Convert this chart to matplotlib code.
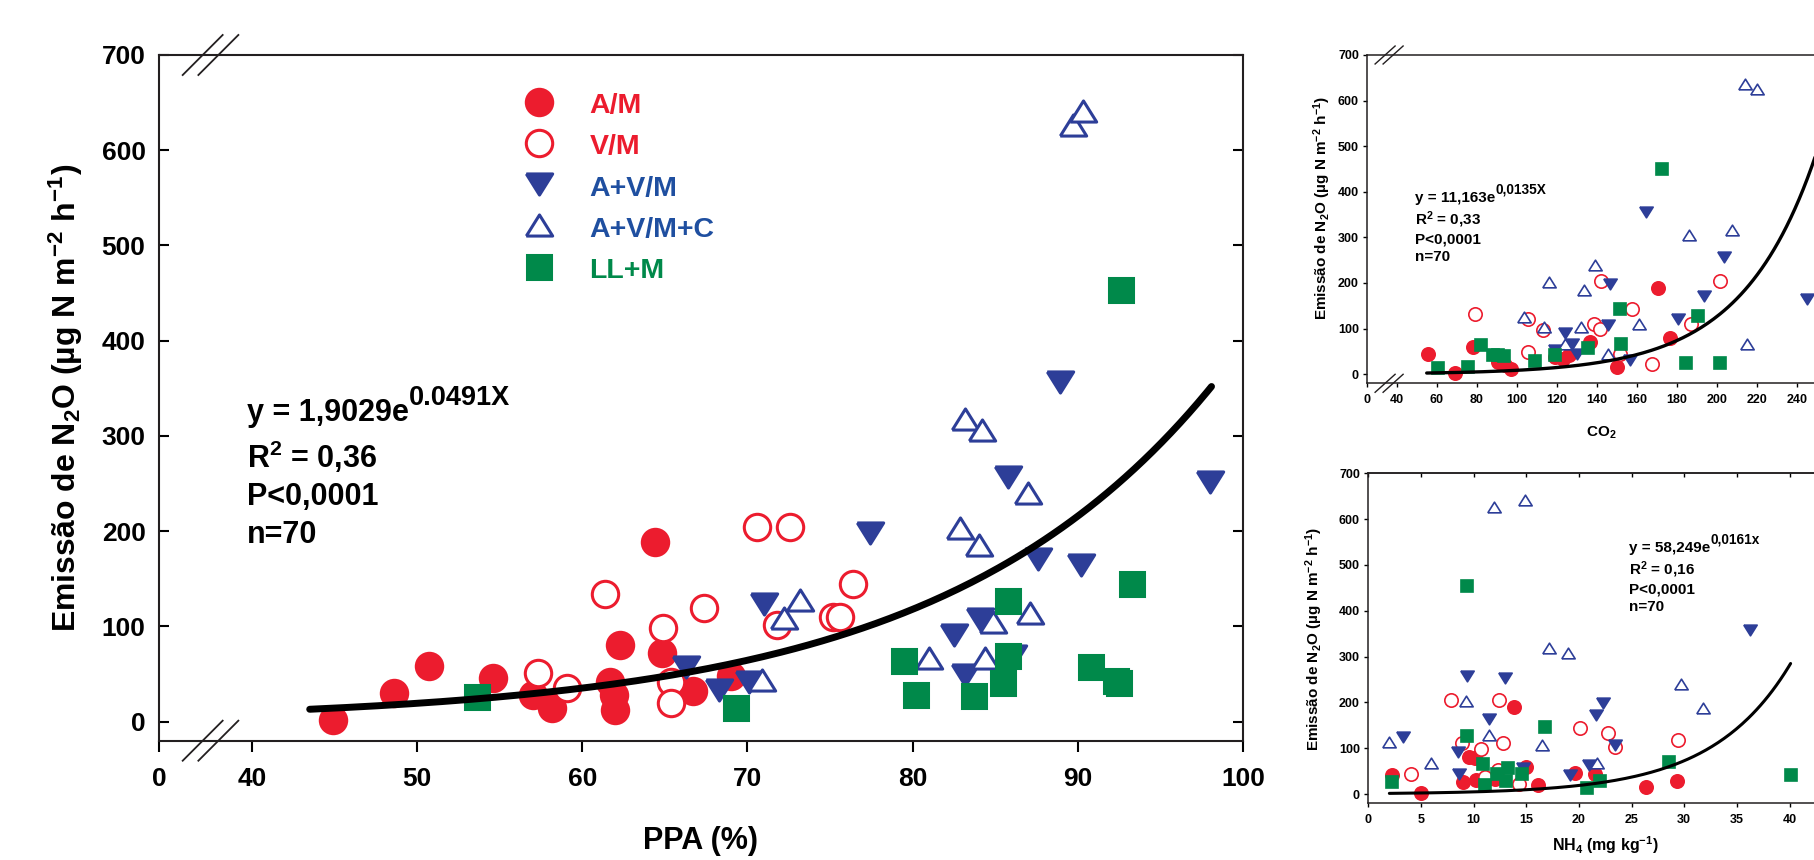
import matplotlib
matplotlib.use('Agg')
import matplotlib.pyplot as plt
from matplotlib.lines import Line2D
from matplotlib.transforms import blended_transform_factory
import numpy as np

plt.rcParams['font.family'] = ['Liberation Sans', 'DejaVu Sans']
plt.rcParams['font.weight'] = 'bold'
plt.rcParams['mathtext.default'] = 'regular'

# ---- data: N2O emission vs PPA (main panel) ----
am_ppa_x = [44.9, 48.6, 50.7, 54.6, 57.0, 58.2, 61.7, 61.9, 62.0, 62.3, 64.4, 64.85, 66.7, 69.0]
am_ppa_y = [2, 30.5, 58.5, 46, 28, 14, 42, 28, 12.3, 80, 189, 72.5, 32.6, 48]
vm_ppa_x = [57.3, 59.05, 61.4, 64.9, 65.4, 65.4, 67.4, 70.6, 72.6, 71.8, 75.2, 75.6, 76.4]
vm_ppa_y = [50.8, 35, 133.8, 98, 42, 19.3, 119.8, 204.8, 204.8, 101.6, 110, 110, 144.6]
avm_ppa_x = [66.3, 68.3, 70.1, 71.0, 77.4, 82.5, 83.2, 84.1, 85.8, 86.1, 87.6, 88.9, 90.2, 98.0]
avm_ppa_y = [57.8, 33.3, 42, 124, 198, 91, 49, 107.6, 257.4, 69, 170.6, 357, 164.6, 252]
avmc_ppa_x = [70.9, 72.2, 73.2, 81.0, 82.9, 83.2, 84.0, 84.2, 84.4, 84.9, 87.0, 87.1, 89.7, 90.3]
avmc_ppa_y = [43.8, 108.6, 127.8, 66.6, 203, 317.6, 185.6, 306.4, 67.2, 105, 240, 113.9, 626.7, 640.8]
ll_ppa_x = [53.6, 69.3, 79.5, 80.2, 83.7, 85.5, 85.8, 85.8, 90.8, 92.3, 92.5, 92.6, 93.3]
ll_ppa_y = [26, 14, 63.8, 28, 27, 41, 69, 127, 57.8, 43, 41, 453, 144.6]

# ---- data: N2O emission vs CO2 ----
am_co2_x = [55.5, 69.2, 78, 90.5, 94.2, 97.2, 119.2, 123.3, 126, 136.7, 150, 170.8, 176.7]
am_co2_y = [45, 1.5, 60, 27, 20, 12, 38, 34, 42, 71, 16, 190, 80]
vm_co2_x = [79.2, 105.8, 105.8, 113.3, 138.8, 141.7, 142.2, 157.5, 151.7, 167.5, 187.2, 201.7]
vm_co2_y = [133, 49, 120, 96.5, 110, 100, 205, 144, 44, 22, 110, 204]
avm_co2_x = [124.2, 127.5, 130, 119, 145.8, 146.7, 156.7, 164.7, 180.8, 193.8, 203.8, 245.3]
avm_co2_y = [91, 66, 45, 53, 107, 197, 31, 356, 122, 171, 257, 164]
avmc_co2_x = [103.7, 116.3, 113.8, 124.2, 132, 133.8, 139.2, 145.8, 161.3, 186.2, 207.8, 214.2, 220, 215]
avmc_co2_y = [126, 202, 104, 67, 104, 184, 239, 44, 111, 305, 316, 637, 625, 66]
ll_co2_x = [60.5, 75.8, 82, 88.3, 90.5, 93.8, 109.2, 119.2, 135.5, 151.7, 152, 172.5, 184.7, 190.5, 201.7]
ll_co2_y = [14.6, 16, 63.6, 41.7, 41.7, 39.5, 29, 41.7, 57.7, 144, 67, 451, 25.6, 127, 25.6]

# ---- data: N2O emission vs NH4 ----
am_nh4_x = [2.28, 5.0, 9.0, 9.6, 10.1, 10.2, 12.0, 13.8, 15.0, 16.1, 19.6, 21.5, 26.4, 29.3]
am_nh4_y = [41.5, 1.5, 27, 81.5, 78, 30.6, 34, 190.7, 59.7, 19.7, 46.6, 45, 14.6, 29]
vm_nh4_x = [4.1, 7.85, 8.86, 10.7, 12.4, 12.8, 12.3, 11.1, 14.3, 20.1, 22.8, 23.4, 29.4]
vm_nh4_y = [43.7, 205, 110.6, 97.5, 205, 110.6, 52, 38, 23, 145, 134, 103, 119]
avm_nh4_x = [3.3, 8.5, 8.6, 9.4, 11.5, 13.0, 14.7, 19.2, 21.0, 21.6, 22.3, 23.4, 36.2]
avm_nh4_y = [125, 92.4, 45, 257.6, 165, 252.5, 56, 41.5, 63.3, 172.5, 198, 107, 358]
avmc_nh4_x = [1.96, 5.95, 9.24, 11.46, 11.96, 14.87, 16.5, 17.2, 19.0, 21.7, 29.7, 31.8]
avmc_nh4_y = [114, 67, 204, 128, 627, 642, 107, 318, 308.6, 67, 240, 187]
ll_nh4_x = [2.28, 9.4, 9.4, 10.9, 11.1, 12.2, 13.1, 13.3, 14.6, 16.8, 20.8, 22.0, 28.6, 40.1]
ll_nh4_y = [27, 454, 126.6, 65.5, 19.7, 43, 29, 58, 43, 147, 12.4, 29, 70.6, 41.5]

# fitted exponential curves as drawn (y = a*exp(b*x) over x range)
ppa_fit = (0.94, 0.0604, 43.5, 98.1)
co2_fit = (0.57, 0.027, 55, 262)
nh4_fit = (1.27, 0.135, 2.0, 40.1)

labels = ['A/M', 'V/M', 'A+V/M', 'A+V/M+C', 'LL+M']

RED = '#ec1c2e'
BLUE = '#2d3e98'
GREEN = '#00894a'
TXT_BLUE = '#1f4fa0'
INK = '#231f20'

tri_down = [(-1, 0.8), (1, 0.8), (0, -0.8), (-1, 0.8)]
tri_up = [(-1, -0.8), (1, -0.8), (0, 0.8), (-1, -0.8)]
styles = [
    dict(marker='o', mfc=RED, mec=RED),
    dict(marker='o', mfc='white', mec=RED),
    dict(marker=tri_down, mfc=BLUE, mec=BLUE),
    dict(marker=tri_up, mfc='white', mec=BLUE),
    dict(marker='s', mfc=GREEN, mec=GREEN),
]
text_colors = [RED, RED, TXT_BLUE, TXT_BLUE, GREEN]

W, H = 1815, 860
fig = plt.figure(figsize=(W / 100, H / 100), dpi=100)
renderer = fig.canvas.get_renderer()


def box(l, t, r, b):
    return [l / W, 1 - b / H, (r - l) / W, (b - t) / H]


def draw_points(ax, xs, ys, ms, mew):
    for (x, y), st in zip(zip(xs, ys), styles):
        s = dict(st)
        size = ms
        if s['marker'] == 's':
            size = ms * 0.93
        ax.plot(x, y, linestyle='none', ms=size, mew=mew, zorder=3, **s)


def draw_fit(ax, fit, lw):
    a, b, x0, x1 = fit
    xx = np.linspace(x0, x1, 200)
    ax.plot(xx, a * np.exp(b * xx), color='black', lw=lw, zorder=4,
            solid_capstyle='round')


def breaks(ax, centers, dx, dy, lw):
    tr = blended_transform_factory(ax.transData, ax.transAxes)
    for yy in (0, 1):
        for c in centers:
            ax.plot([c - dx, c + dx], [yy - dy, yy + dy], color=INK, lw=lw,
                    transform=tr, clip_on=False, zorder=5)


def style_spines(ax, lw):
    for s in ax.spines.values():
        s.set_linewidth(lw)
        s.set_color(INK)


def eq_text(x, y, main, sup, size, sup_size, rise):
    # main text, then a raised exponent right after it (pixel coords from top-left)
    t = fig.text(x / W, 1 - y / H, main, fontsize=size, va='baseline')
    ext = t.get_window_extent(renderer)
    fig.text(ext.x1 / W, 1 - (y - rise) / H, sup, fontsize=sup_size, va='baseline')


def stats_text(x, ys, r2, size):
    fig.text(x / W, 1 - ys[0] / H, 'R$^{2}$ = ' + r2, fontsize=size, va='baseline')
    fig.text(x / W, 1 - ys[1] / H, 'P<0,0001', fontsize=size, va='baseline')
    fig.text(x / W, 1 - ys[2] / H, 'n=70', fontsize=size, va='baseline')


YLAB = 'Emissão de N$_2$O (µg N m$^{-2}$ h$^{-1}$)'

# ---------------- main panel ----------------
ax = fig.add_axes(box(159.4, 55, 1242.9, 740.7))
draw_points(ax, [am_ppa_x, vm_ppa_x, avm_ppa_x, avmc_ppa_x, ll_ppa_x],
            [am_ppa_y, vm_ppa_y, avm_ppa_y, avmc_ppa_y, ll_ppa_y], 19, 2.2)
draw_fit(ax, ppa_fit, 5)
ax.set_xlim(34.4, 100)
ax.set_ylim(-20, 700)
ax.set_xticks([34.4, 40, 50, 60, 70, 80, 90, 100])
ax.set_xticklabels(['0', '40', '50', '60', '70', '80', '90', '100'])
ax.set_yticks(range(0, 701, 100))
ax.tick_params(axis='x', direction='out', length=8, width=1.5, pad=11, labelsize=19)
ax.tick_params(axis='y', direction='in', length=7, width=1.5, left=True, right=True,
               pad=10, labelsize=19)
style_spines(ax, 1.5)
breaks(ax, [37.02, 37.97], 1.21, 0.0292, 1.3)

fig.text(701 / W, 1 - 841 / H, 'PPA (%)', ha='center', va='center', fontsize=22)
fig.text(66 / W, 1 - 398 / H, YLAB, rotation=90, ha='center', va='center', fontsize=23)

eq_text(246.9, 420.7, 'y = 1,9029e', '0.0491X', 22, 19.5, 15.7)
stats_text(246.9, [468.3, 505, 543.3], '0,36', 22)

# legend
for i, (lab, st, tc) in enumerate(zip(labels, styles, text_colors)):
    ym = 101.7 + i * 41.25
    s = dict(st)
    size = 19 if s['marker'] != 's' else 17.5
    fig.add_artist(Line2D([538.8 / W], [1 - ym / H], transform=fig.transFigure,
                          linestyle='none', ms=size, mew=2.2, **s))
    fig.text(589.3 / W, 1 - (ym + 11.5) / H, lab, color=tc, fontsize=20.5, va='baseline')

# ---------------- CO2 panel ----------------
ax2 = fig.add_axes(box(1367.3, 55, 1836.7, 383.3))
draw_points(ax2, [am_co2_x, vm_co2_x, avm_co2_x, avmc_co2_x, ll_co2_x],
            [am_co2_y, vm_co2_y, avm_co2_y, avmc_co2_y, ll_co2_y], 9.6, 1.2)
draw_fit(ax2, co2_fit, 2.4)
ax2.set_xlim(25.3, 260)
ax2.set_ylim(-20, 700)
ax2.set_xticks([25.3] + list(range(40, 241, 20)))
ax2.set_xticklabels(['0'] + [str(v) for v in range(40, 241, 20)])
ax2.set_yticks(range(0, 701, 100))
ax2.tick_params(axis='both', direction='out', length=3, width=1, pad=3, labelsize=9)
ax2.tick_params(axis='x', pad=5)
style_spines(ax2, 1.1)
breaks(ax2, [34.2, 38.2], 5.0, 0.0274, 1.0)
fig.text(1601.7 / W, 1 - 433 / H, 'CO$_2$', ha='center', va='center', fontsize=11)
fig.text(1322 / W, 1 - 208 / H, YLAB, rotation=90, ha='center', va='center', fontsize=11)
eq_text(1415, 201.7, 'y = 11,163e', '0,0135X', 11, 9.8, 7.7)
stats_text(1415, [225, 243.3, 261], '0,33', 11)

# ---------------- NH4 panel ----------------
ax3 = fig.add_axes(box(1368.3, 473.3, 1842.2, 803.3))
draw_points(ax3, [am_nh4_x, vm_nh4_x, avm_nh4_x, avmc_nh4_x, ll_nh4_x],
            [am_nh4_y, vm_nh4_y, avm_nh4_y, avmc_nh4_y, ll_nh4_y], 9.6, 1.2)
draw_fit(ax3, nh4_fit, 2.2)
ax3.set_xlim(0, 45)
ax3.set_ylim(-20, 700)
ax3.set_xticks(range(0, 41, 5))
ax3.set_yticks(range(0, 701, 100))
ax3.tick_params(axis='both', direction='out', length=3, width=1, pad=3, labelsize=9)
ax3.tick_params(axis='x', pad=5)
top = ax3.secondary_xaxis('top')
top.set_xticks(range(0, 41, 5))
top.tick_params(direction='in', length=3, width=1, labeltop=False)
top.spines['top'].set_linewidth(1.1)
top.spines['top'].set_color(INK)
style_spines(ax3, 1.1)
fig.text(1605.5 / W, 1 - 845 / H, 'NH$_4$ (mg kg$^{-1}$)', ha='center', va='center',
         fontsize=11.5)
fig.text(1314 / W, 1 - 639 / H, YLAB, rotation=90, ha='center', va='center', fontsize=11)
eq_text(1629.3, 551.7, 'y = 58,249e', '0,0161x', 11, 9.8, 7.7)
stats_text(1629.3, [575, 593.3, 610.7], '0,16', 11)

fig.savefig('out.png', dpi=100)
